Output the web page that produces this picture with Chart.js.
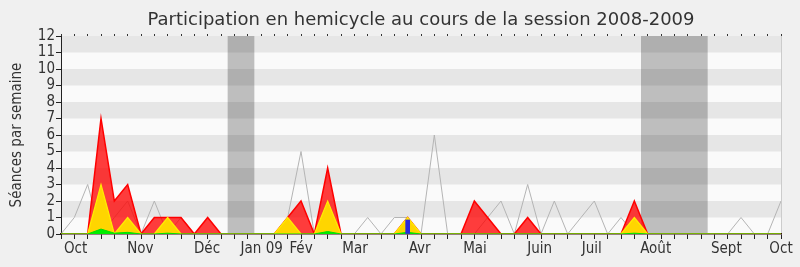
<!DOCTYPE html>
<html>
<head>
<meta charset="utf-8">
<script src="https://cdn.jsdelivr.net/npm/chart.js@4/dist/chart.umd.min.js"></script>
<style>
  html, body { margin: 0; padding: 0; background: #f0f0f0; }
  #wrap { width: 800px; height: 267px; position: relative; }
</style>
</head>
<body>
<div id="wrap"><canvas id="c" width="800" height="267"></canvas></div>
<script>
// ---- data (one point per week, index 0..54) ----
const weeks = Array.from({length: 55}, (_, i) => i);
const median   = [0,1,3,0,1,2,0,2,0,1,0,0,0,0,0,0,0,1,5,0,1,0,0,1,0,1,1,0,6,0,0,0,1,2,0,3,0,2,0,1,2,0,1,0,0,0,0,0,0,0,0,1,0,0,2];
const presence = [0,0,0,7,2,3,0,1,1,1,0,1,0,0,0,0,0,1,2,0,4,0,0,0,0,0,1,0,0,0,0,2,1,0,0,1,0,0,0,0,0,0,0,2,0,0,0,0,0,0,0,0,0,0,0];
const interventions = [0,0,0,3,0,1,0,0,1,0,0,0,0,0,0,0,0,1,0,0,2,0,0,0,0,0,1,0,0,0,0,0,0,0,0,0,0,0,0,0,0,0,0,1,0,0,0,0,0,0,0,0,0,0,0];
const questionsEcrites = [0,0,0,0.3,0.05,0.1,0,0,0.05,0,0,0,0,0,0,0,0,0,0,0,0.15,0,0,0,0,0,0.1,0,0,0,0,0,0,0,0,0,0,0,0,0,0,0,0,0.05,0,0,0,0,0,0,0,0,0,0,0];
const questionsOrales = [null,null,null,null,null,null,null,null,null,null,null,null,null,null,null,null,null,null,null,null,null,null,null,null,null,null,0.85,null,null,null,null,null,null,null,null,null,null,null,null,null,null,null,null,null,null,null,null,null,null,null,null,null,null,null,null];
const monthLabels = ['Oct','Nov','Déc','Jan 09','Fév','Mar','Avr','Mai','Juin','Juil','Août','Sept','Oct'];
const monthPos    = [1.1, 5.95, 10.95, 15.05, 18.0, 22.05, 26.9, 31.05, 35.9, 39.8, 44.6, 49.9, 54];
const vacations   = [[12.5, 14.5], [43.5, 48.5]];
const yTicks = [0,1,2,3,4,5,6,7,8,9,10,11,12];

const FONT = "'DejaVu Sans Condensed', 'DejaVu Sans', sans-serif";
const TFONT = "'DejaVu Sans', sans-serif";
const pts = arr => arr.map((v, i) => ({x: weeks[i], y: v}));

const bgPlugin = {
  id: 'bg',
  beforeDraw(chart) {
    const {ctx, chartArea: a, scales: {x, y}} = chart;
    ctx.save();
    ctx.fillStyle = '#f0f0f0';
    ctx.fillRect(0, 0, chart.width, chart.height);
    ctx.fillStyle = '#fafafa';
    ctx.fillRect(a.left, a.top, a.right - a.left, a.bottom - a.top);
    ctx.fillStyle = '#bebebe';
    vacations.forEach(([s, e]) => {
      const x0 = x.getPixelForValue(s), x1 = x.getPixelForValue(e);
      ctx.fillRect(x0, a.top, x1 - x0, a.bottom - a.top);
    });
    ctx.fillStyle = 'rgba(0,0,0,0.08)';
    for (let v = 1; v < 12; v += 2) {
      const y0 = y.getPixelForValue(v + 1), y1 = y.getPixelForValue(v);
      ctx.fillRect(a.left, y0, a.right - a.left, y1 - y0);
    }
    ctx.strokeStyle = '#cccccc';
    ctx.lineWidth = 1;
    ctx.beginPath();
    ctx.moveTo(a.right + 0.5, a.top);
    ctx.lineTo(a.right + 0.5, a.bottom);
    ctx.stroke();
    ctx.restore();
  }
};

new Chart(document.getElementById('c'), {
  data: {
    datasets: [
      { type: 'bar', data: pts(questionsOrales), backgroundColor: '#2a2ae0', barThickness: 4, xAxisID: 'x', yAxisID: 'y' },
      { type: 'line', data: pts(questionsEcrites), borderColor: '#00e000', borderWidth: 1, backgroundColor: '#00ee00', fill: 'origin', pointRadius: 0, tension: 0 },
      { type: 'line', data: pts(interventions), borderColor: '#ffee00', borderWidth: 1.2, backgroundColor: '#ffd500', fill: 'origin', pointRadius: 0, tension: 0 },
      { type: 'line', data: pts(presence), borderColor: '#ff0000', borderWidth: 1.5, backgroundColor: 'rgba(255,0,0,0.76)', fill: 'origin', pointRadius: 0, tension: 0 },
      { type: 'line', data: pts(median), borderColor: '#b4b4b4', borderWidth: 1, fill: false, pointRadius: 0, tension: 0 }
    ]
  },
  options: {
    responsive: false,
    animation: false,
    events: [],
    layout: { padding: { left: 0, right: 19, top: 0, bottom: 8 } },
    plugins: {
      legend: { display: false },
      tooltip: { enabled: false },
      title: {
        display: true,
        fullSize: false,
        text: 'Participation en hemicycle au cours de la session 2008-2009',
        color: '#333333',
        font: { family: TFONT, size: 18, weight: 'normal' },
        padding: { top: 10, bottom: 2.4 }
      }
    },
    scales: {
      x: {
        type: 'linear', position: 'bottom', min: 0, max: 54, weight: 0, offset: false,
        ticks: { display: false, stepSize: 1, autoSkip: false },
        grid: { drawOnChartArea: false, tickLength: 5, color: '#222222', offset: false },
        border: { color: '#3a1010', width: 1.5 }
      },
      xm: {
        type: 'linear', position: 'bottom', min: 0, max: 54, weight: 1, offset: false,
        afterBuildTicks: s => { s.ticks = monthPos.map(v => ({value: v})); },
        ticks: {
          autoSkip: false, maxRotation: 0, padding: 1, color: '#333333',
          font: { family: FONT, size: 15 },
          callback: (v, i) => monthLabels[i]
        },
        grid: { display: false, drawTicks: false, offset: false },
        border: { display: false }
      },
      xt: {
        type: 'linear', position: 'top', min: 0, max: 54, offset: false,
        ticks: { display: false, stepSize: 1, autoSkip: false },
        grid: { drawOnChartArea: false, tickLength: 2, color: '#333333', offset: false },
        border: { display: false }
      },
      y: {
        type: 'linear', position: 'left', min: 0, max: 12,
        afterBuildTicks: s => { s.ticks = yTicks.map(v => ({value: v})); },
        afterFit: s => { s.width = 61; },
        ticks: { color: '#333333', padding: 1, autoSkip: false, font: { family: FONT, size: 15 } },
        grid: { drawOnChartArea: false, tickLength: 5, color: '#222222' },
        border: { color: '#222222' },
        title: { display: true, text: 'Séances par semaine', color: '#333333', font: { family: FONT, size: 15 }, padding: { top: 8, bottom: 0 } }
      }
    }
  },
  plugins: [bgPlugin]
});
</script>
</body>
</html>
